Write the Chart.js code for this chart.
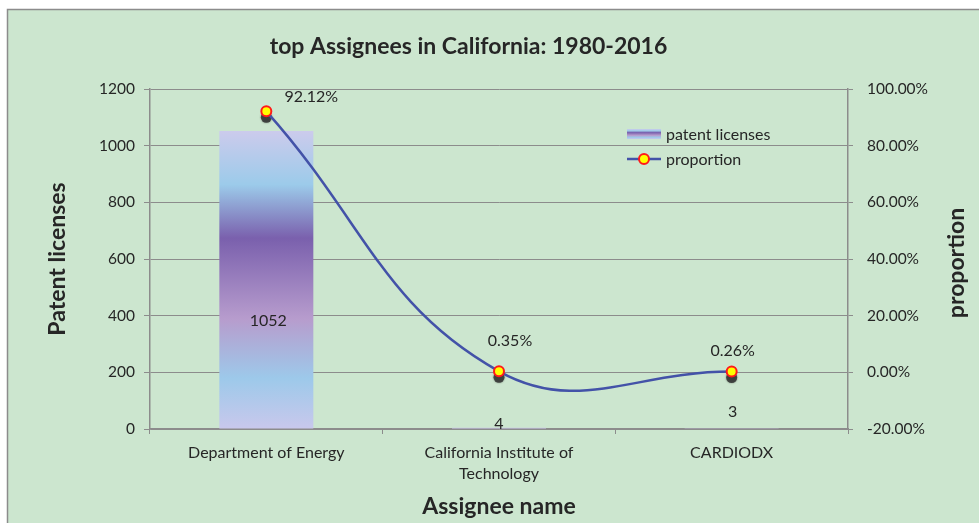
<!DOCTYPE html>
<html><head><meta charset="utf-8">
<script src="https://cdn.jsdelivr.net/npm/chart.js@4.4.0/dist/chart.umd.min.js"></script>
<style>html,body{margin:0;padding:0;background:#fff;}canvas{display:block;}</style>
</head><body>
<canvas id="c" width="979" height="523"></canvas>
<script>
// ---- data ----
const categories = ['Department of Energy', ['California Institute of', 'Technology'], 'CARDIODX'];
const patentLicenses = [1052, 4, 3];
const proportion = [92.12, 0.35, 0.26];
const leftTickValues = [0, 200, 400, 600, 800, 1000, 1200];
const rightTickValues = [-20, 0, 20, 40, 60, 80, 100];

// ---- styles ----
const FONT = 'Lato, "Liberation Sans", sans-serif';
const TEXT = '#262626';
const GRID = '#8c8c8c';
const BAR_STOPS = [[0, '#cccbec'], [0.18, '#9ccbea'], [0.36, '#7a60ad'], [0.63, '#b79ccd'], [0.83, '#9dc9ea'], [1, '#c9c8ec']];
const barLabelOffsets = [[2, 41], [0, -4], [1, -16]];
const pointLabelOffsets = [[45, -14], [11, -30], [1, -21]];
const TITLE_FONT = { family: FONT, size: 23, weight: 'bold' };

function barGradient(c2d, top, bottom) {
  const g = c2d.createLinearGradient(0, top, 0, bottom);
  BAR_STOPS.forEach(s => g.addColorStop(s[0], s[1]));
  return g;
}

const bgPlugin = {
  id: 'bg',
  beforeDraw(chart) {
    const ctx = chart.ctx; ctx.save();
    ctx.fillStyle = '#fff'; ctx.fillRect(0, 0, chart.width, chart.height);
    ctx.fillStyle = '#cce6cf'; ctx.fillRect(7, 9, chart.width - 7, chart.height - 9);
    ctx.strokeStyle = GRID; ctx.lineWidth = 1.5; ctx.strokeRect(7.5, 9.5, chart.width, chart.height);
    ctx.restore();
  }
};

const shadowPlugin = {
  id: 'pointShadow',
  beforeDatasetDraw(chart, args) {
    if (args.meta.type !== 'line') return;
    const ctx = chart.ctx; ctx.save();
    ctx.fillStyle = 'rgba(50,50,50,0.85)';
    ctx.shadowColor = 'rgba(0,0,0,0.5)'; ctx.shadowBlur = 2;
    args.meta.data.forEach(p => { ctx.beginPath(); ctx.arc(p.x, p.y + 6, 5.5, 0, Math.PI * 2); ctx.fill(); });
    ctx.restore();
  }
};

const labelPlugin = {
  id: 'valueLabels',
  afterDatasetsDraw(chart) {
    const ctx = chart.ctx; ctx.save();
    ctx.font = '16px ' + FONT; ctx.fillStyle = TEXT; ctx.textAlign = 'center'; ctx.textBaseline = 'middle';
    const barMeta = chart.getDatasetMeta(1);
    barMeta.data.forEach((b, i) => {
      const cy = (b.y + b.base) / 2;
      ctx.fillText(String(patentLicenses[i]), b.x + barLabelOffsets[i][0], cy + barLabelOffsets[i][1]);
    });
    const lineMeta = chart.getDatasetMeta(0);
    lineMeta.data.forEach((p, i) => {
      ctx.fillText(proportion[i].toFixed(2) + '%', p.x + pointLabelOffsets[i][0], p.y + pointLabelOffsets[i][1]);
    });
    ctx.restore();
  }
};

const legendPlugin = {
  id: 'innerLegend',
  afterDraw(chart) {
    const ctx = chart.ctx; ctx.save();
    const x0 = 627, w = 34;
    // bar item
    ctx.fillStyle = barGradient(ctx, 129, 139);
    ctx.fillRect(x0, 129, w, 10);
    ctx.font = '16px ' + FONT; ctx.fillStyle = TEXT; ctx.textAlign = 'left'; ctx.textBaseline = 'middle';
    ctx.fillText('patent licenses', 666, 135);
    // line item
    ctx.strokeStyle = '#4352a8'; ctx.lineWidth = 2.5;
    ctx.beginPath(); ctx.moveTo(x0, 159); ctx.lineTo(x0 + w, 159); ctx.stroke();
    ctx.beginPath(); ctx.arc(x0 + w / 2, 159, 5, 0, Math.PI * 2);
    ctx.fillStyle = '#ffff00'; ctx.fill(); ctx.lineWidth = 2; ctx.strokeStyle = '#ff1a1a'; ctx.stroke();
    ctx.fillStyle = TEXT;
    ctx.fillText('proportion', 666, 160);
    // right axis title (reads bottom to top)
    ctx.font = 'bold 23px ' + FONT; ctx.textAlign = 'center';
    ctx.translate(957, 263); ctx.rotate(-Math.PI / 2);
    ctx.fillText('proportion', 0, 0);
    ctx.restore();
  }
};

new Chart(document.getElementById('c'), {
  type: 'bar',
  data: {
    labels: categories,
    datasets: [
      {
        type: 'line', label: 'proportion', data: proportion, yAxisID: 'y1', order: 0,
        borderColor: '#4352a8', borderWidth: 2.5, tension: 0.42, cubicInterpolationMode: 'default',
        pointRadius: 5, pointBorderWidth: 2, pointBackgroundColor: '#ffff00', pointBorderColor: '#ff1a1a',
        pointHoverRadius: 5
      },
      {
        type: 'bar', label: 'patent licenses', data: patentLicenses, yAxisID: 'y', order: 1,
        categoryPercentage: 1, barPercentage: 0.404,
        backgroundColor(c) {
          const chart = c.chart;
          if (!chart.chartArea || c.raw === undefined) return '#9b8fd0';
          const ys = chart.scales.y;
          const top = ys.getPixelForValue(c.raw), base = ys.getPixelForValue(0);
          if (base - top < 2) return '#c9c8ec';
          return barGradient(chart.ctx, top, base);
        }
      }
    ]
  },
  options: {
    responsive: false,
    animation: false,
    events: [],
    layout: { padding: { left: 0, right: 42, top: 0, bottom: 0 } },
    plugins: {
      legend: { display: false },
      tooltip: { enabled: false },
      title: {
        display: true, text: 'top Assignees in California: 1980-2016', color: TEXT,
        font: TITLE_FONT, padding: { top: 33, bottom: 28.4 }
      }
    },
    scales: {
      x: {
        grid: { display: true, drawOnChartArea: false, drawTicks: true, tickLength: 5, color: GRID, offset: true },
        border: { display: true, color: GRID, width: 1.5 },
        ticks: { font: { family: FONT, size: 16, lineHeight: 1.3125 }, color: TEXT, padding: 8.5, maxRotation: 0, autoSkip: false },
        title: { display: true, text: 'Assignee name', color: TEXT, font: TITLE_FONT, padding: { top: 0, bottom: 3 } },
        afterFit(s) { s.height = 94; }
      },
      y: {
        position: 'left', min: 0, max: 1200,
        afterBuildTicks(s) { s.ticks = leftTickValues.map(v => ({ value: v })); },
        grid: { color: GRID, lineWidth: 1, tickLength: 6, drawTicks: true },
        border: { color: GRID, width: 1.5 },
        ticks: { font: { family: FONT, size: 15.5 }, color: TEXT, padding: 9, callback: v => String(v) },
        title: { display: true, text: 'Patent licenses', color: TEXT, font: TITLE_FONT, padding: { top: 44, bottom: 0 } },
        afterFit(s) { s.width = 150; }
      },
      y1: {
        position: 'right', min: -20, max: 100,
        afterBuildTicks(s) { s.ticks = rightTickValues.map(v => ({ value: v })); },
        grid: { drawOnChartArea: false, color: GRID, tickLength: 5, drawTicks: true },
        border: { color: GRID, width: 1.5 },
        ticks: { font: { family: FONT, size: 15.5 }, color: TEXT, padding: 14, callback: v => Number(v).toFixed(2) + '%' },
        afterFit(s) { s.width = 89; }
      }
    }
  },
  plugins: [bgPlugin, shadowPlugin, labelPlugin, legendPlugin]
});
</script>
</body></html>
